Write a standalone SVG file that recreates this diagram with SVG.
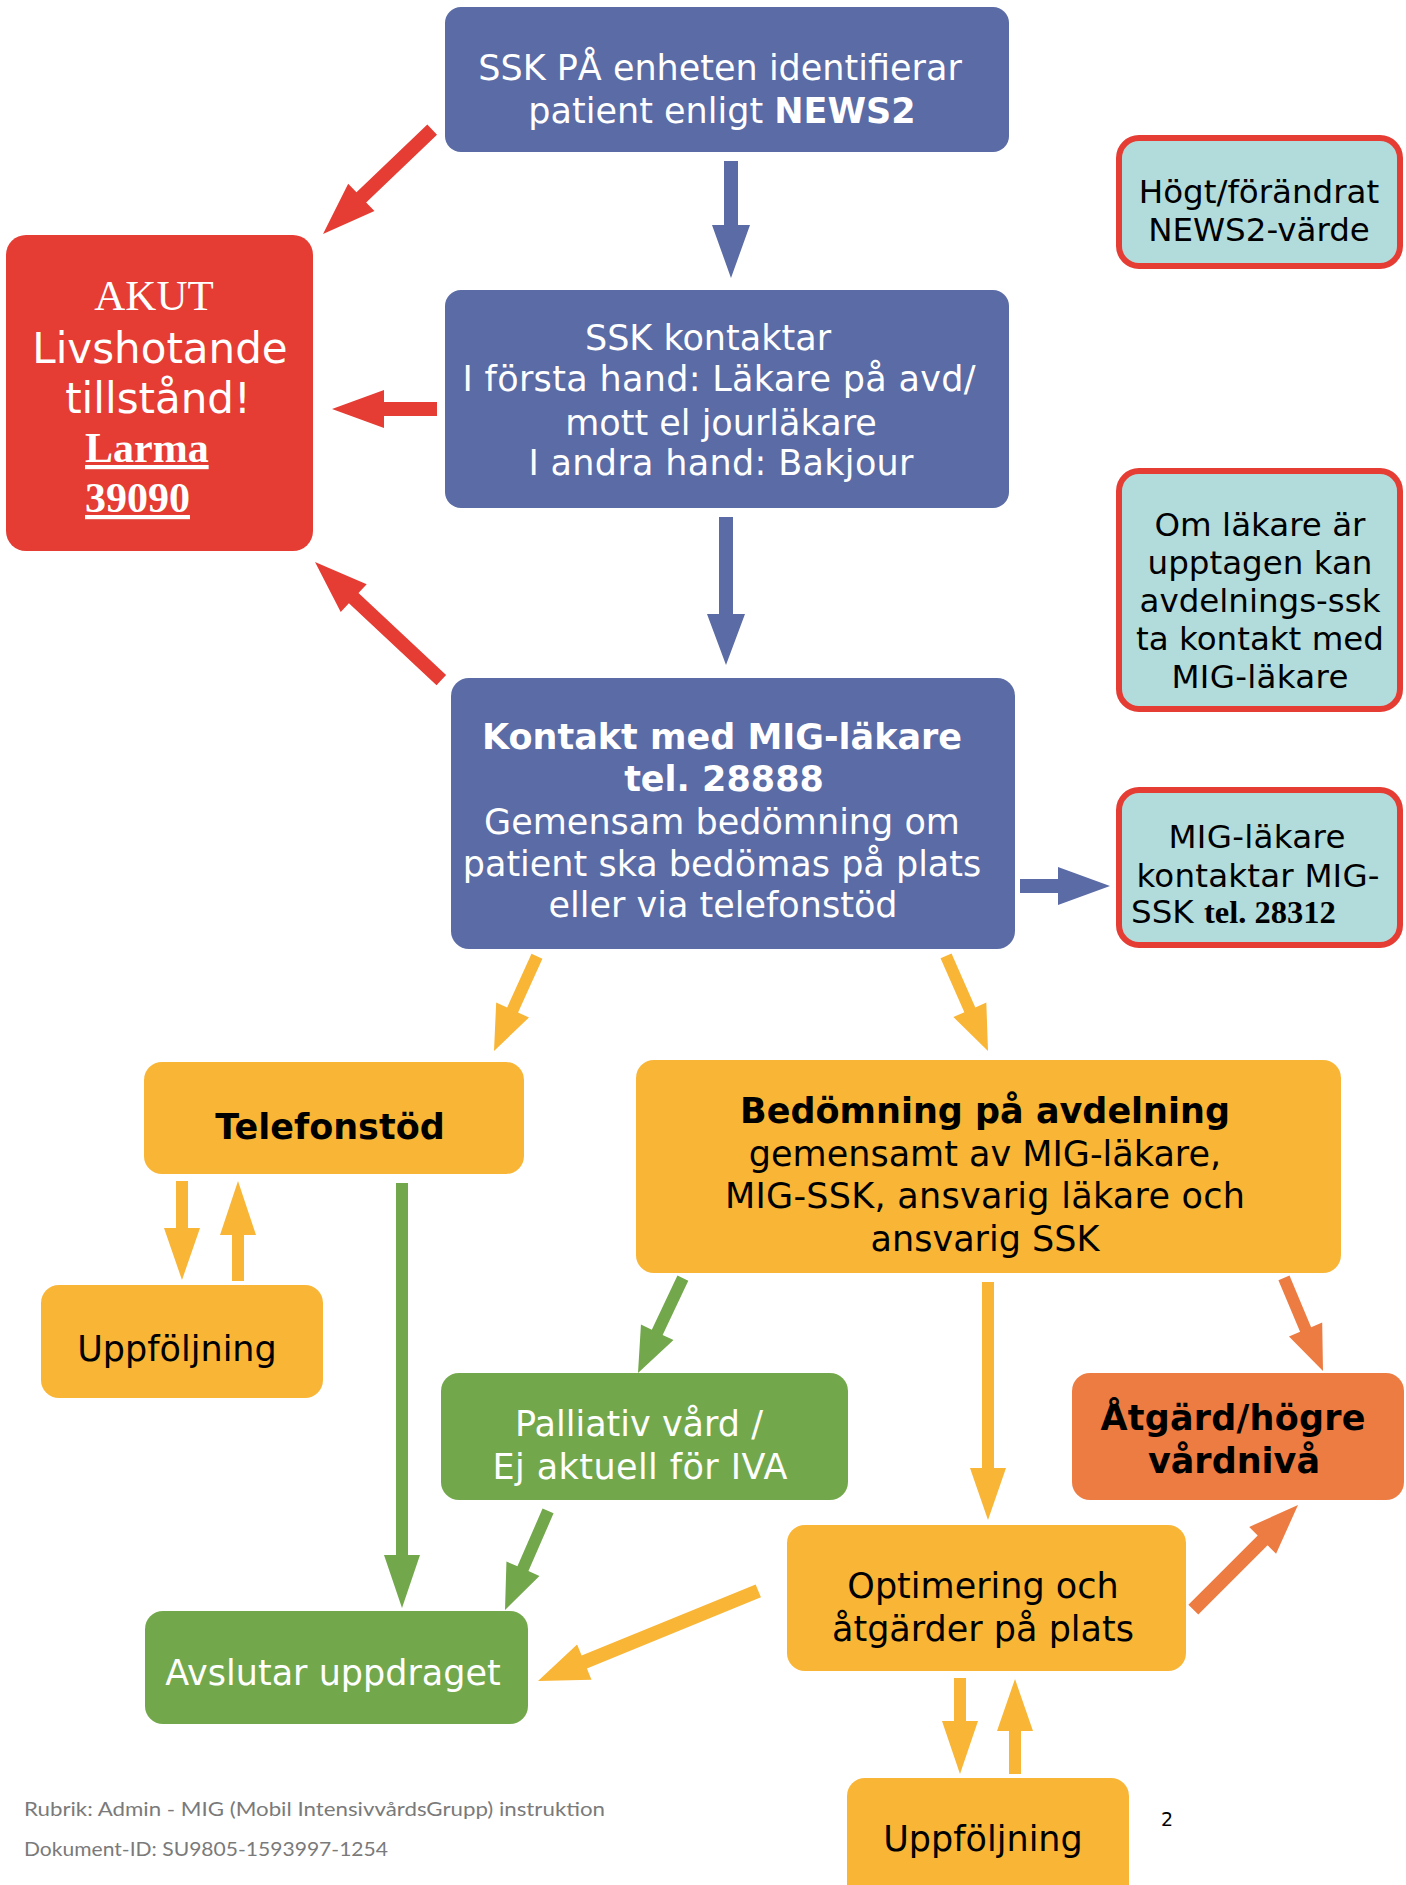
<svg xmlns="http://www.w3.org/2000/svg" width="1406" height="1885" viewBox="0 0 1406 1885">
<style>
.t{font-family:"DejaVu Sans",Verdana,sans-serif;font-size:35px;text-anchor:middle}
.w{fill:#ffffff}
.k{fill:#000000}
.b{font-weight:bold}
.tl{font-family:"DejaVu Sans",Verdana,sans-serif;font-size:32.5px;text-anchor:middle;fill:#000}
.blue{fill:#5A6BA5}
.red{fill:#E53C33}
.teal{fill:#B2DBDB;stroke:#E53C33;stroke-width:6}
.org{fill:#F8B536}
.grn{fill:#72A84B}
.ored{fill:#ED7C43}
.foot{font-family:Lato,"Open Sans",sans-serif;font-size:20px;fill:#7A7A7A}
</style>
<g id="connectors">
<polygon class="blue" transform="translate(731,278) rotate(90)" points="-117,-7 -53,-7 -53,-19 0,0 -53,19 -53,7 -117,7"/>
<polygon class="blue" transform="translate(726,665) rotate(90)" points="-148,-7 -51,-7 -51,-19 0,0 -51,19 -51,7 -148,7"/>
<polygon class="blue" transform="translate(1110,886)" points="-90,-7 -52,-7 -52,-19 0,0 -52,19 -52,7 -90,7"/>
<polygon class="red" transform="translate(323,234) rotate(136.3)" points="-151,-7 -53,-7 -53,-19 0,0 -53,19 -53,7 -151,7"/>
<polygon class="red" transform="translate(332,409) rotate(180)" points="-105,-7 -52,-7 -52,-19 0,0 -52,19 -52,7 -105,7"/>
<polygon class="red" transform="translate(315,562) rotate(-136.9)" points="-173,-7 -53,-7 -53,-19 0,0 -53,19 -53,7 -173,7"/>
<polygon class="org" transform="translate(494,1051) rotate(114.4)" points="-104,-6 -45,-6 -45,-18 0,0 -45,18 -45,6 -104,6"/>
<polygon class="org" transform="translate(988,1051) rotate(66.2)" points="-104,-6 -45,-6 -45,-18 0,0 -45,18 -45,6 -104,6"/>
<polygon class="org" transform="translate(182,1280) rotate(90)" points="-99,-6 -52,-6 -52,-18 0,0 -52,18 -52,6 -99,6"/>
<polygon class="org" transform="translate(238,1181) rotate(-90)" points="-100,-6 -54,-6 -54,-18 0,0 -54,18 -54,6 -100,6"/>
<polygon class="grn" transform="translate(402,1608) rotate(90)" points="-425,-6 -53,-6 -53,-18 0,0 -53,18 -53,6 -425,6"/>
<polygon class="grn" transform="translate(638,1373) rotate(115.3)" points="-105,-6 -45,-6 -45,-18 0,0 -45,18 -45,6 -105,6"/>
<polygon class="grn" transform="translate(505,1610) rotate(113.5)" points="-108,-6 -45,-6 -45,-18 0,0 -45,18 -45,6 -108,6"/>
<polygon class="org" transform="translate(988,1520) rotate(90)" points="-238,-6 -52,-6 -52,-18 0,0 -52,18 -52,6 -238,6"/>
<polygon class="ored" transform="translate(1323,1371) rotate(67.25)" points="-101,-6 -45,-6 -45,-18 0,0 -45,18 -45,6 -101,6"/>
<polygon class="ored" transform="translate(1298,1505) rotate(-45)" points="-148,-7 -50,-7 -50,-19 0,0 -50,19 -50,7 -148,7"/>
<polygon class="org" transform="translate(538,1681) rotate(157.75)" points="-238,-7 -50,-7 -50,-19 0,0 -50,19 -50,7 -238,7"/>
<polygon class="org" transform="translate(960,1774) rotate(90)" points="-96,-6 -53,-6 -53,-18 0,0 -53,18 -53,6 -96,6"/>
<polygon class="org" transform="translate(1015,1679) rotate(-90)" points="-95,-6 -52,-6 -52,-18 0,0 -52,18 -52,6 -95,6"/>
</g>
<g id="n-identifierar">
<rect class="blue" x="445" y="7" width="564" height="145" rx="16"/>
<text class="t w" x="720" y="80">SSK PÅ enheten identifierar</text>
<text class="t w" x="722" y="123">patient enligt <tspan class="b">NEWS2</tspan></text>
</g>
<g id="n-kontaktar">
<rect class="blue" x="445" y="290" width="564" height="218" rx="16"/>
<text class="t w" x="708" y="350">SSK kontaktar</text>
<text class="t w" x="719" y="391" textLength="513">I första hand: Läkare på avd/</text>
<text class="t w" x="721" y="435">mott el jourläkare</text>
<text class="t w" x="721" y="475" textLength="385">I andra hand: Bakjour</text>
</g>
<g id="n-akut">
<rect class="red" x="6" y="235" width="307" height="316" rx="20"/>
<text x="154" y="310" style="font-family:'Liberation Serif','Times New Roman',serif;font-size:43px;text-anchor:middle;fill:#fff">AKUT</text>
<text class="w" x="160" y="363" style="font-family:'DejaVu Sans',Verdana,sans-serif;font-size:42px;text-anchor:middle">Livshotande</text>
<text class="w" x="158" y="413" style="font-family:'DejaVu Sans',Verdana,sans-serif;font-size:42px;text-anchor:middle">tillstånd!</text>
<text class="w" x="85" y="462" style="font-family:'Liberation Serif','Times New Roman',serif;font-size:42px;font-weight:bold;text-decoration:underline">Larma</text>
<text class="w" x="85" y="512" style="font-family:'Liberation Serif','Times New Roman',serif;font-size:42px;font-weight:bold;text-decoration:underline">39090</text>
</g>
<g id="n-hogt">
<rect class="teal" x="1119" y="138" width="281" height="128" rx="20"/>
<text class="tl" x="1259" y="203">Högt/förändrat</text>
<text class="tl" x="1259" y="241">NEWS2-värde</text>
</g>
<g id="n-upptagen">
<rect class="teal" x="1119" y="471" width="281" height="238" rx="20"/>
<text class="tl" x="1260" y="536">Om läkare är</text>
<text class="tl" x="1260" y="574">upptagen kan</text>
<text class="tl" x="1260" y="612">avdelnings-ssk</text>
<text class="tl" x="1260" y="650">ta kontakt med</text>
<text class="tl" x="1260" y="688" textLength="177">MIG-läkare</text>
</g>
<g id="n-mig">
<rect class="blue" x="451" y="678" width="564" height="271" rx="18"/>
<text class="t w b" x="722" y="749">Kontakt med MIG-läkare</text>
<text class="t w b" x="724" y="791">tel. 28888</text>
<text class="t w" x="722" y="834">Gemensam bedömning om</text>
<text class="t w" x="722" y="876">patient ska bedömas på plats</text>
<text class="t w" x="723" y="917">eller via telefonstöd</text>
</g>
<g id="n-migssk">
<rect class="teal" x="1119" y="790" width="281" height="155" rx="20"/>
<text class="tl" x="1257" y="848" textLength="177">MIG-läkare</text>
<text class="tl" x="1258" y="887" textLength="243">kontaktar MIG-</text>
<text class="tl" x="1131" y="923" style="text-anchor:start">SSK <tspan style="font-family:'Liberation Serif','Times New Roman',serif;font-weight:bold">tel. 28312</tspan></text>
</g>
<g id="n-telefonstod">
<rect class="org" x="144" y="1062" width="380" height="112" rx="18"/>
<text class="t k b" x="330" y="1139">Telefonstöd</text>
</g>
<g id="n-bedomning">
<rect class="org" x="636" y="1060" width="705" height="213" rx="18"/>
<text class="t k b" x="985" y="1123">Bedömning på avdelning</text>
<text class="t k" x="985" y="1166">gemensamt av MIG-läkare,</text>
<text class="t k" x="985" y="1208" textLength="520">MIG-SSK, ansvarig läkare och</text>
<text class="t k" x="985" y="1251">ansvarig SSK</text>
</g>
<g id="n-uppfoljning1">
<rect class="org" x="41" y="1285" width="282" height="113" rx="18"/>
<text class="t k" x="177" y="1361">Uppföljning</text>
</g>
<g id="n-palliativ">
<rect class="grn" x="441" y="1373" width="407" height="127" rx="18"/>
<text class="t w" x="639" y="1436">Palliativ vård /</text>
<text class="t w" x="640" y="1479" textLength="295">Ej aktuell för IVA</text>
</g>
<g id="n-atgard">
<rect class="ored" x="1072" y="1373" width="332" height="127" rx="18"/>
<text class="t k b" x="1233" y="1430" textLength="265">Åtgärd/högre</text>
<text class="t k b" x="1234" y="1473">vårdnivå</text>
</g>
<g id="n-avslutar">
<rect class="grn" x="145" y="1611" width="383" height="113" rx="18"/>
<text class="t w" x="333" y="1685">Avslutar uppdraget</text>
</g>
<g id="n-optimering">
<rect class="org" x="787" y="1525" width="399" height="146" rx="18"/>
<text class="t k" x="983" y="1598">Optimering och</text>
<text class="t k" x="983" y="1641">åtgärder på plats</text>
</g>
<g id="n-uppfoljning2">
<rect class="org" x="847" y="1778" width="282" height="140" rx="18"/>
<text class="t k" x="983" y="1851">Uppföljning</text>
</g>
<g id="footer">
<text class="foot" x="24" y="1816" textLength="581" lengthAdjust="spacingAndGlyphs">Rubrik: Admin - MIG (Mobil IntensivvårdsGrupp) instruktion</text>
<text class="foot" x="24" y="1856" textLength="364" lengthAdjust="spacingAndGlyphs">Dokument-ID: SU9805-1593997-1254</text>
<text x="1167" y="1826" style="font-family:'DejaVu Sans',sans-serif;font-size:19px;text-anchor:middle;fill:#000">2</text>
</g>
</svg>
